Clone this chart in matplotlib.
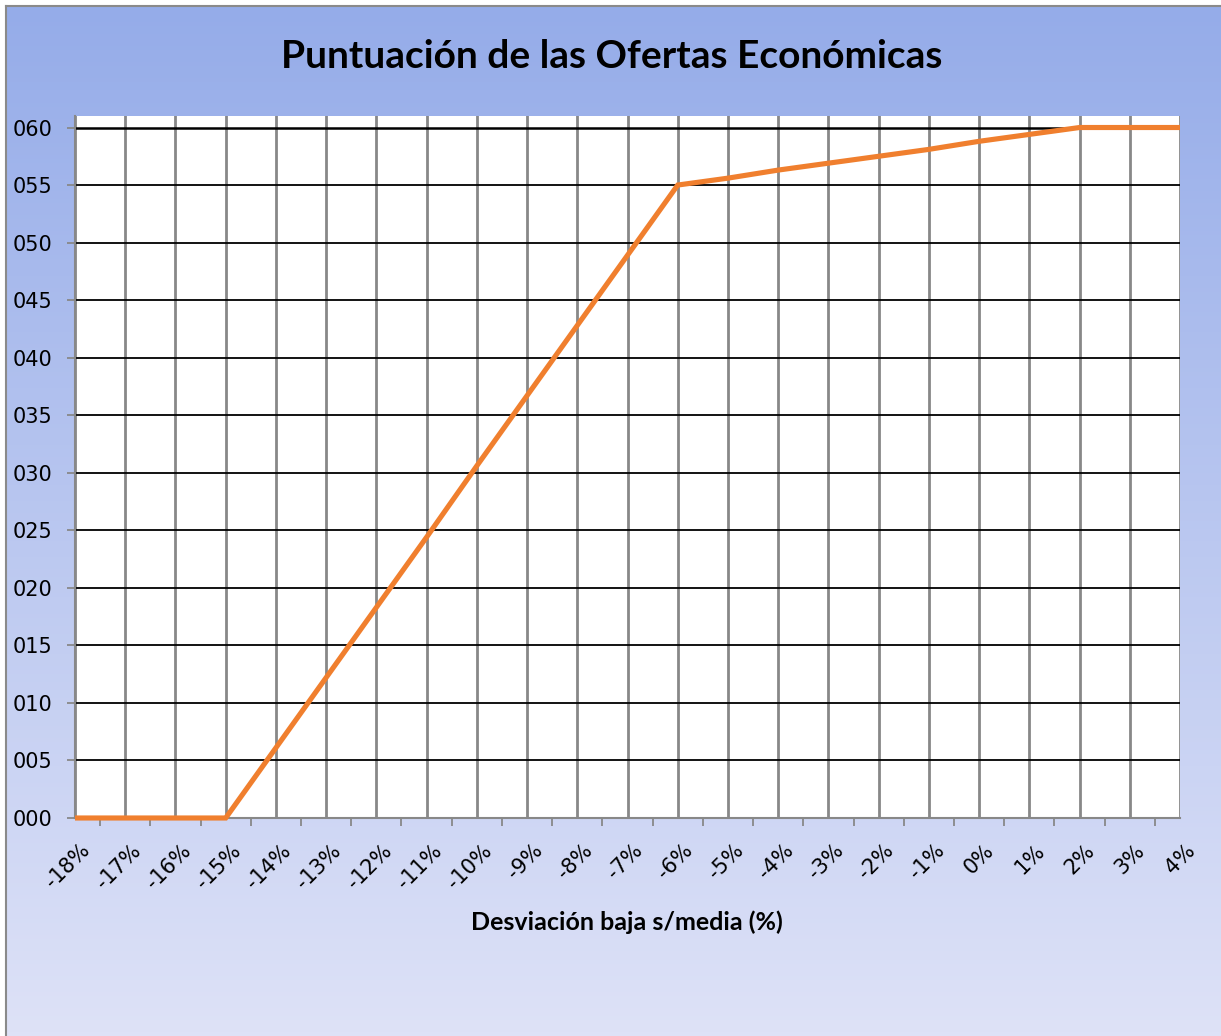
import matplotlib
matplotlib.use("Agg")
import matplotlib.pyplot as plt
import numpy as np
from matplotlib.transforms import ScaledTranslation
from matplotlib.ticker import FuncFormatter

categories = ["-18%", "-17%", "-16%", "-15%", "-14%", "-13%", "-12%", "-11%", "-10%",
              "-9%", "-8%", "-7%", "-6%", "-5%", "-4%", "-3%", "-2%", "-1%", "0%",
              "1%", "2%", "3%", "4%"]
scores = [0, 0, 0, 0, 6.1, 12.2, 18.3, 24.4, 30.6, 36.7, 42.8, 48.9, 55.0,
          55.6, 56.3, 56.9, 57.5, 58.1, 58.8, 59.4, 60, 60, 60]
y_ticks = [0, 5, 10, 15, 20, 25, 30, 35, 40, 45, 50, 55, 60]

title = "Puntuación de las Ofertas Económicas"
xlabel = "Desviación baja s/media (%)"

W, H = 1221, 1036
fig = plt.figure(figsize=(W / 100, H / 100), dpi=100)
fig.patch.set_facecolor("white")

# background gradient panel
bg = fig.add_axes([6 / W, 0, 1 - 6 / W, 1 - 6 / H])
bg.set_zorder(-10)
top = np.array([149, 172, 233]) / 255
bot = np.array([222, 226, 247]) / 255
t = np.linspace(0, 1, 256)[:, None, None]
grad = top * (1 - t) + bot * t
grad = np.repeat(grad, 2, axis=1)
bg.imshow(grad, aspect="auto", extent=[0, 1, 0, 1], origin="upper")
bg.set_xlim(0, 1)
bg.set_ylim(0, 1)
bg.set_xticks([])
bg.set_yticks([])
for s in ["right", "bottom"]:
    bg.spines[s].set_visible(False)
for s in ["left", "top"]:
    bg.spines[s].set_color("#8a8a8a")
    bg.spines[s].set_linewidth(1.5)

# plot area
L, R, T, B = 75, 1180, 116, 818
ax = fig.add_axes([L / W, 1 - B / H, (R - L) / W, (B - T) / H])
ax.set_facecolor("white")
x = np.arange(len(categories))
ax.set_xlim(0, len(categories) - 1)
ax.set_ylim(0, 61)

for xi in x:
    ax.axvline(xi, color="#888888", lw=2.0, zorder=1)
for yv in y_ticks[1:]:
    ax.axhline(yv, color="black", lw=1.3 if yv < 60 else 1.8, zorder=2)

ax.plot(x, scores, color="#F07F2E", lw=3.7, zorder=5, solid_capstyle="butt",
        solid_joinstyle="miter", clip_on=False)

for s in ["top", "right"]:
    ax.spines[s].set_visible(False)
for s in ["left", "bottom"]:
    ax.spines[s].set_color("#888888")
    ax.spines[s].set_linewidth(1.5)

ax.set_yticks(y_ticks)
ax.yaxis.set_major_formatter(FuncFormatter(lambda v, p: f"{int(round(v)):03d}"))
ax.tick_params(axis="y", length=6, width=1.3, color="#888888", pad=10,
               labelsize=15, labelcolor="black")

ax.set_xticks(x)
ax.set_xticklabels(categories, rotation=45, ha="right", rotation_mode="anchor",
                   fontsize=15)
ax.set_xticks(x[:-1] + 0.5, minor=True)
ax.tick_params(axis="x", which="major", length=0, pad=16)
ax.tick_params(axis="x", which="minor", length=6, width=1.3, color="#888888")
off = ScaledTranslation(5 / 100, 0, fig.dpi_scale_trans)
for lab in ax.get_xticklabels():
    lab.set_transform(lab.get_transform() + off)

fig.text(612 / W, 1 - 56 / H, title, ha="center", va="center",
         fontsize=28, fontweight="bold", family="Lato")
fig.text(627 / W, 1 - 922 / H, xlabel, ha="center", va="center",
         fontsize=18, fontweight="bold", family="Lato")

fig.savefig("out.png", dpi=100, facecolor=fig.get_facecolor())
